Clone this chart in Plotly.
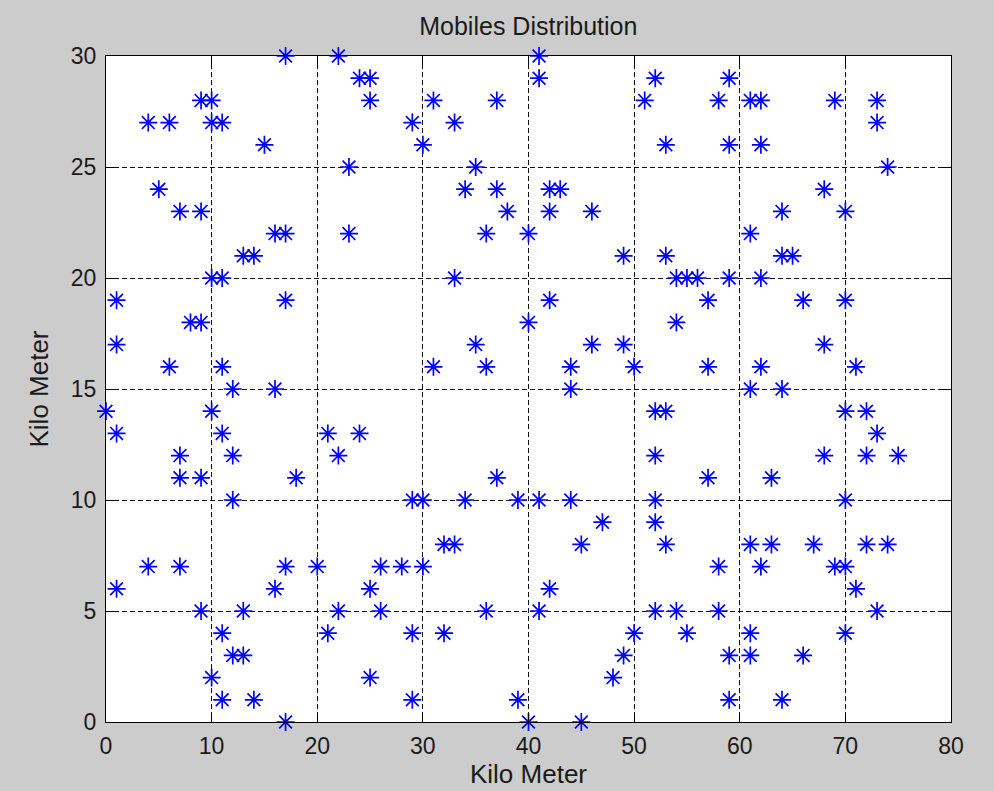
import plotly.graph_objects as go

# Mobile positions (km)
x_km = [17, 22, 41,
        24, 25, 41, 52, 59,
        9, 10, 25, 31, 37, 51, 58, 61, 62, 69, 73,
        4, 6, 10, 11, 29, 33, 73,
        15, 30, 53, 59, 62,
        23, 35, 74,
        5, 34, 37, 42, 43, 68,
        7, 9, 38, 42, 46, 64, 70,
        16, 17, 23, 36, 40, 61,
        13, 14, 49, 53, 64, 65,
        10, 11, 33, 54, 55, 56, 59, 62,
        1, 17, 42, 57, 66, 70,
        8, 9, 40, 54,
        1, 35, 46, 49, 68,
        6, 11, 31, 36, 44, 50, 57, 62, 71,
        12, 16, 44, 61, 64,
        0, 10, 52, 53, 70, 72,
        1, 11, 21, 24, 73,
        7, 12, 22, 52, 68, 72, 75,
        7, 9, 18, 37, 57, 63,
        12, 29, 30, 34, 39, 41, 44, 52, 70,
        47, 52,
        32, 33, 45, 53, 61, 63, 67, 72, 74,
        4, 7, 17, 20, 26, 28, 30, 58, 62, 69, 70,
        1, 16, 25, 42, 71,
        9, 13, 22, 26, 36, 41, 52, 54, 58, 73,
        11, 21, 29, 32, 50, 55, 61, 70,
        12, 13, 49, 59, 61, 66,
        10, 25, 48,
        11, 14, 29, 39, 59, 64,
        17, 40, 45]

y_km = ([30] * 3 + [29] * 5 + [28] * 11 + [27] * 7 + [26] * 5 + [25] * 3 +
        [24] * 6 + [23] * 7 + [22] * 6 + [21] * 6 + [20] * 8 + [19] * 6 +
        [18] * 4 + [17] * 5 + [16] * 9 + [15] * 5 + [14] * 6 + [13] * 5 +
        [12] * 7 + [11] * 6 + [10] * 9 + [9] * 2 + [8] * 9 + [7] * 11 +
        [6] * 5 + [5] * 10 + [4] * 8 + [3] * 6 + [2] * 3 + [1] * 6 + [0] * 3)

x_ticks = [0, 10, 20, 30, 40, 50, 60, 70, 80]
y_ticks = [0, 5, 10, 15, 20, 25, 30]

title_text = "Mobiles Distribution"
x_label = "Kilo Meter"
y_label = "Kilo Meter"

FONT = "Liberation Sans, Arial, sans-serif"
TXT = "#1a1a1a"

fig = go.Figure()
fig.add_trace(go.Scatter(
    x=x_km, y=y_km, mode="markers",
    marker=dict(symbol="asterisk-open", size=15, color="#0000ff",
                line=dict(color="#0000ff", width=1.7)),
    cliponaxis=False, showlegend=False, hoverinfo="x+y",
))

axis_common = dict(
    showline=True, linecolor="black", linewidth=1.3, mirror="ticks",
    ticks="inside", ticklen=8, tickcolor="black", tickwidth=1.3,
    showgrid=True, gridcolor="#111111", gridwidth=1.4, griddash="5px,3px",
    zeroline=False, automargin=False,
    tickfont=dict(family=FONT, size=23, color=TXT),
)

fig.update_layout(
    width=994, height=791,
    margin=dict(l=106, r=43, t=56, b=69),
    paper_bgcolor="#cccccc", plot_bgcolor="white",
    title=dict(text=title_text, x=0.5315, xanchor="center",
               y=1 - 26 / 791, yanchor="middle", yref="container",
               font=dict(family=FONT, size=25, color=TXT)),
    xaxis=dict(range=[0, 80], tickvals=x_ticks, ticklabelstandoff=3,
               **axis_common,
               title=dict(text=x_label, standoff=7,
                          font=dict(family=FONT, size=26, color=TXT))),
    yaxis=dict(range=[0, 30], tickvals=y_ticks, ticklabelstandoff=4,
               **axis_common,
               title=dict(text=y_label, standoff=14,
                          font=dict(family=FONT, size=26, color=TXT))),
)

fig.write_html("out.html")
